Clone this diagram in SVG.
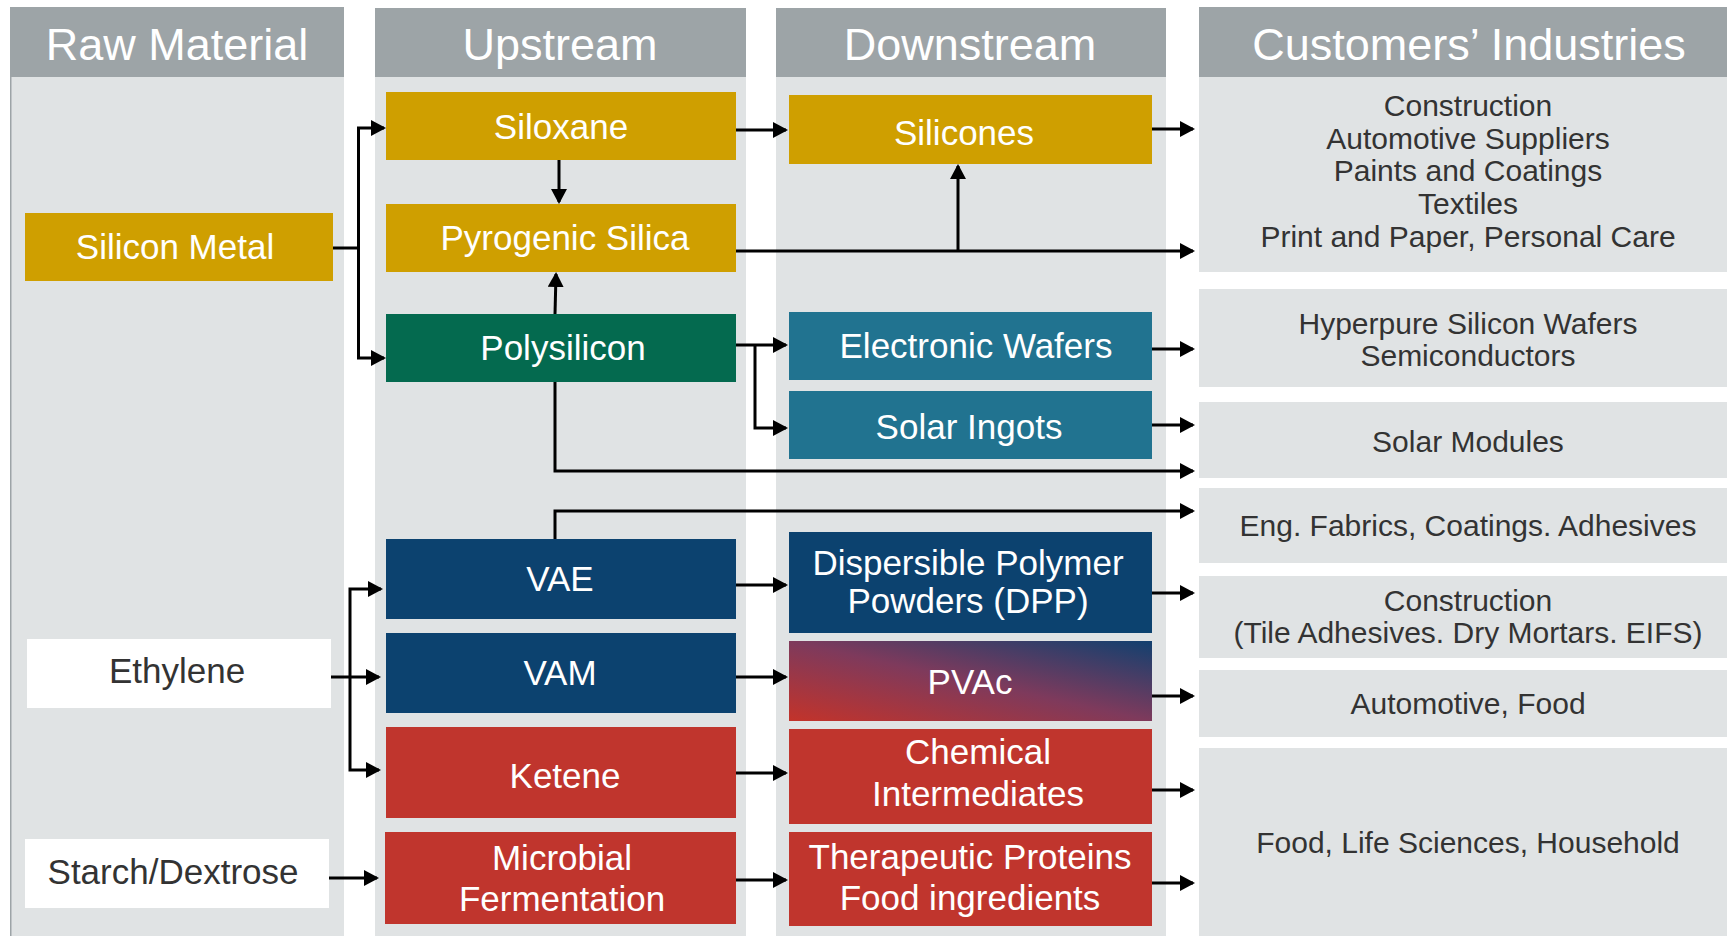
<svg xmlns="http://www.w3.org/2000/svg" width="1727" height="936" viewBox="0 0 1727 936">
<style>
.hdr{fill:#9DA4A7}
.body{fill:#E0E3E4}
.ht{font-family:"Liberation Sans",Arial,sans-serif;font-size:45px;fill:#FFFFFF;text-anchor:middle}
.bt{font-family:"Liberation Sans",Arial,sans-serif;font-size:35px;fill:#FFFFFF;text-anchor:middle}
.dt{font-family:"Liberation Sans",Arial,sans-serif;font-size:35px;fill:#333333;text-anchor:middle}
.ct{font-family:"Liberation Sans",Arial,sans-serif;font-size:30px;fill:#333333;text-anchor:middle}
.gold{fill:#CF9F00}
.green{fill:#046A4F}
.teal{fill:#217390}
.navy{fill:#0C426F}
.red{fill:#C0352D}
.white{fill:#FFFFFF}
.con path{fill:none;stroke:#000000;stroke-width:3}
.con path.a{marker-end:url(#ah)}
</style>
<defs>
<marker id="ah" markerWidth="15" markerHeight="16" refX="13" refY="8" orient="auto" markerUnits="userSpaceOnUse">
<path d="M0,0 L15,8 L0,16 z" fill="#000000"/>
</marker>
<linearGradient id="pvac" x1="0" y1="1" x2="1" y2="0">
<stop offset="0" stop-color="#C3332A"/>
<stop offset="0.5" stop-color="#7E3A5C"/>
<stop offset="1" stop-color="#12406F"/>
</linearGradient>
</defs>
<rect x="0" y="0" width="1727" height="936" fill="#FFFFFF"/>
<g id="columns">
<rect class="body" x="10" y="77" width="334" height="859"/>
<rect class="hdr" x="10" y="77" width="1.5" height="859"/>
<rect class="hdr" x="10" y="7" width="334" height="70"/>
<text class="ht" x="177" y="60">Raw Material</text>
<rect class="body" x="375" y="77" width="371" height="859"/>
<rect class="hdr" x="375" y="8" width="371" height="69"/>
<text class="ht" x="560" y="60">Upstream</text>
<rect class="body" x="776" y="77" width="390" height="859"/>
<rect class="hdr" x="776" y="8" width="390" height="69"/>
<text class="ht" x="970" y="60">Downstream</text>
<rect class="hdr" x="1199" y="7" width="528" height="70"/>
<text class="ht" x="1469" y="60">Customers’ Industries</text>
</g>
<g id="customers">
<rect class="body" x="1199" y="77" width="528" height="195"/>
<text class="ct" x="1468" y="116">Construction</text>
<text class="ct" x="1468" y="149">Automotive Suppliers</text>
<text class="ct" x="1468" y="181">Paints and Coatings</text>
<text class="ct" x="1468" y="214">Textiles</text>
<text class="ct" x="1468" y="247">Print and Paper, Personal Care</text>
<rect class="body" x="1199" y="289" width="528" height="98"/>
<text class="ct" x="1468" y="334">Hyperpure Silicon Wafers</text>
<text class="ct" x="1468" y="366">Semiconductors</text>
<rect class="body" x="1199" y="402" width="528" height="76"/>
<text class="ct" x="1468" y="452">Solar Modules</text>
<rect class="body" x="1199" y="488" width="528" height="75"/>
<text class="ct" x="1468" y="536">Eng. Fabrics, Coatings. Adhesives</text>
<rect class="body" x="1199" y="576" width="528" height="82"/>
<text class="ct" x="1468" y="611">Construction</text>
<text class="ct" x="1468" y="643">(Tile Adhesives. Dry Mortars. EIFS)</text>
<rect class="body" x="1199" y="670" width="528" height="67"/>
<text class="ct" x="1468" y="714">Automotive, Food</text>
<rect class="body" x="1199" y="748" width="528" height="188"/>
<text class="ct" x="1468" y="853">Food, Life Sciences, Household</text>
</g>
<g id="silicon-metal"><rect class="gold" x="25" y="213" width="308" height="68"/><text class="bt" x="175" y="259">Silicon Metal</text></g>
<g id="ethylene"><rect class="white" x="27" y="639" width="304" height="69"/><text class="dt" x="177" y="683">Ethylene</text></g>
<g id="starch"><rect class="white" x="25" y="839" width="304" height="69"/><text class="dt" x="173" y="884">Starch/Dextrose</text></g>
<g id="siloxane"><rect class="gold" x="386" y="92" width="350" height="68"/><text class="bt" x="561" y="139">Siloxane</text></g>
<g id="pyrogenic-silica"><rect class="gold" x="386" y="204" width="350" height="68"/><text class="bt" x="565" y="250">Pyrogenic Silica</text></g>
<g id="polysilicon"><rect class="green" x="386" y="314" width="350" height="68"/><text class="bt" x="563" y="360">Polysilicon</text></g>
<g id="vae"><rect class="navy" x="386" y="539" width="350" height="80"/><text class="bt" x="560" y="591">VAE</text></g>
<g id="vam"><rect class="navy" x="386" y="633" width="350" height="80"/><text class="bt" x="560" y="685">VAM</text></g>
<g id="ketene"><rect class="red" x="386" y="727" width="350" height="91"/><text class="bt" x="565" y="788">Ketene</text></g>
<g id="microbial"><rect class="red" x="385" y="832" width="351" height="92"/><text class="bt" x="562" y="870">Microbial</text><text class="bt" x="562" y="911">Fermentation</text></g>
<g id="silicones"><rect class="gold" x="789" y="95" width="363" height="69"/><text class="bt" x="964" y="145">Silicones</text></g>
<g id="electronic-wafers"><rect class="teal" x="789" y="312" width="363" height="68"/><text class="bt" x="976" y="358">Electronic Wafers</text></g>
<g id="solar-ingots"><rect class="teal" x="789" y="391" width="363" height="68"/><text class="bt" x="969" y="439">Solar Ingots</text></g>
<g id="dpp"><rect class="navy" x="789" y="532" width="363" height="101"/><text class="bt" x="968" y="575">Dispersible Polymer</text><text class="bt" x="968" y="613">Powders (DPP)</text></g>
<g id="pvac"><rect fill="url(#pvac)" x="789" y="641" width="363" height="80"/><text class="bt" x="970" y="694">PVAc</text></g>
<g id="chemical-intermediates"><rect class="red" x="789" y="729" width="363" height="95"/><text class="bt" x="978" y="764">Chemical</text><text class="bt" x="978" y="806">Intermediates</text></g>
<g id="therapeutic-proteins"><rect class="red" x="789" y="832" width="363" height="94"/><text class="bt" x="970" y="869">Therapeutic Proteins</text><text class="bt" x="970" y="910">Food ingredients</text></g>
<g id="connectors" class="con">
<path d="M333,248 H358.5"/>
<path class="a" d="M358.5,249 V128 H384"/>
<path class="a" d="M358.5,247 V358 H384"/>
<path class="a" d="M559,160 V202"/>
<path class="a" d="M555,314 L556,274"/>
<path class="a" d="M736,130 H786"/>
<path class="a" d="M736,251 H1193"/>
<path class="a" d="M958,252 V166"/>
<path class="a" d="M736,345 H786"/>
<path class="a" d="M755,344 V428 H786"/>
<path class="a" d="M555,382 V471 H1193"/>
<path class="a" d="M1152,129 H1193"/>
<path class="a" d="M1152,349 H1193"/>
<path class="a" d="M1152,425 H1193"/>
<path class="a" d="M555,539 V511 H1193"/>
<path class="a" d="M331,677 H379"/>
<path class="a" d="M350,678 V589 H381"/>
<path class="a" d="M350,676 V770 H379"/>
<path class="a" d="M329,878 H377"/>
<path class="a" d="M736,585 H786"/>
<path class="a" d="M736,677 H786"/>
<path class="a" d="M736,773 H786"/>
<path class="a" d="M736,880 H786"/>
<path class="a" d="M1152,593 H1193"/>
<path class="a" d="M1152,696 H1193"/>
<path class="a" d="M1152,790 H1193"/>
<path class="a" d="M1152,883 H1193"/>
</g>
</svg>
